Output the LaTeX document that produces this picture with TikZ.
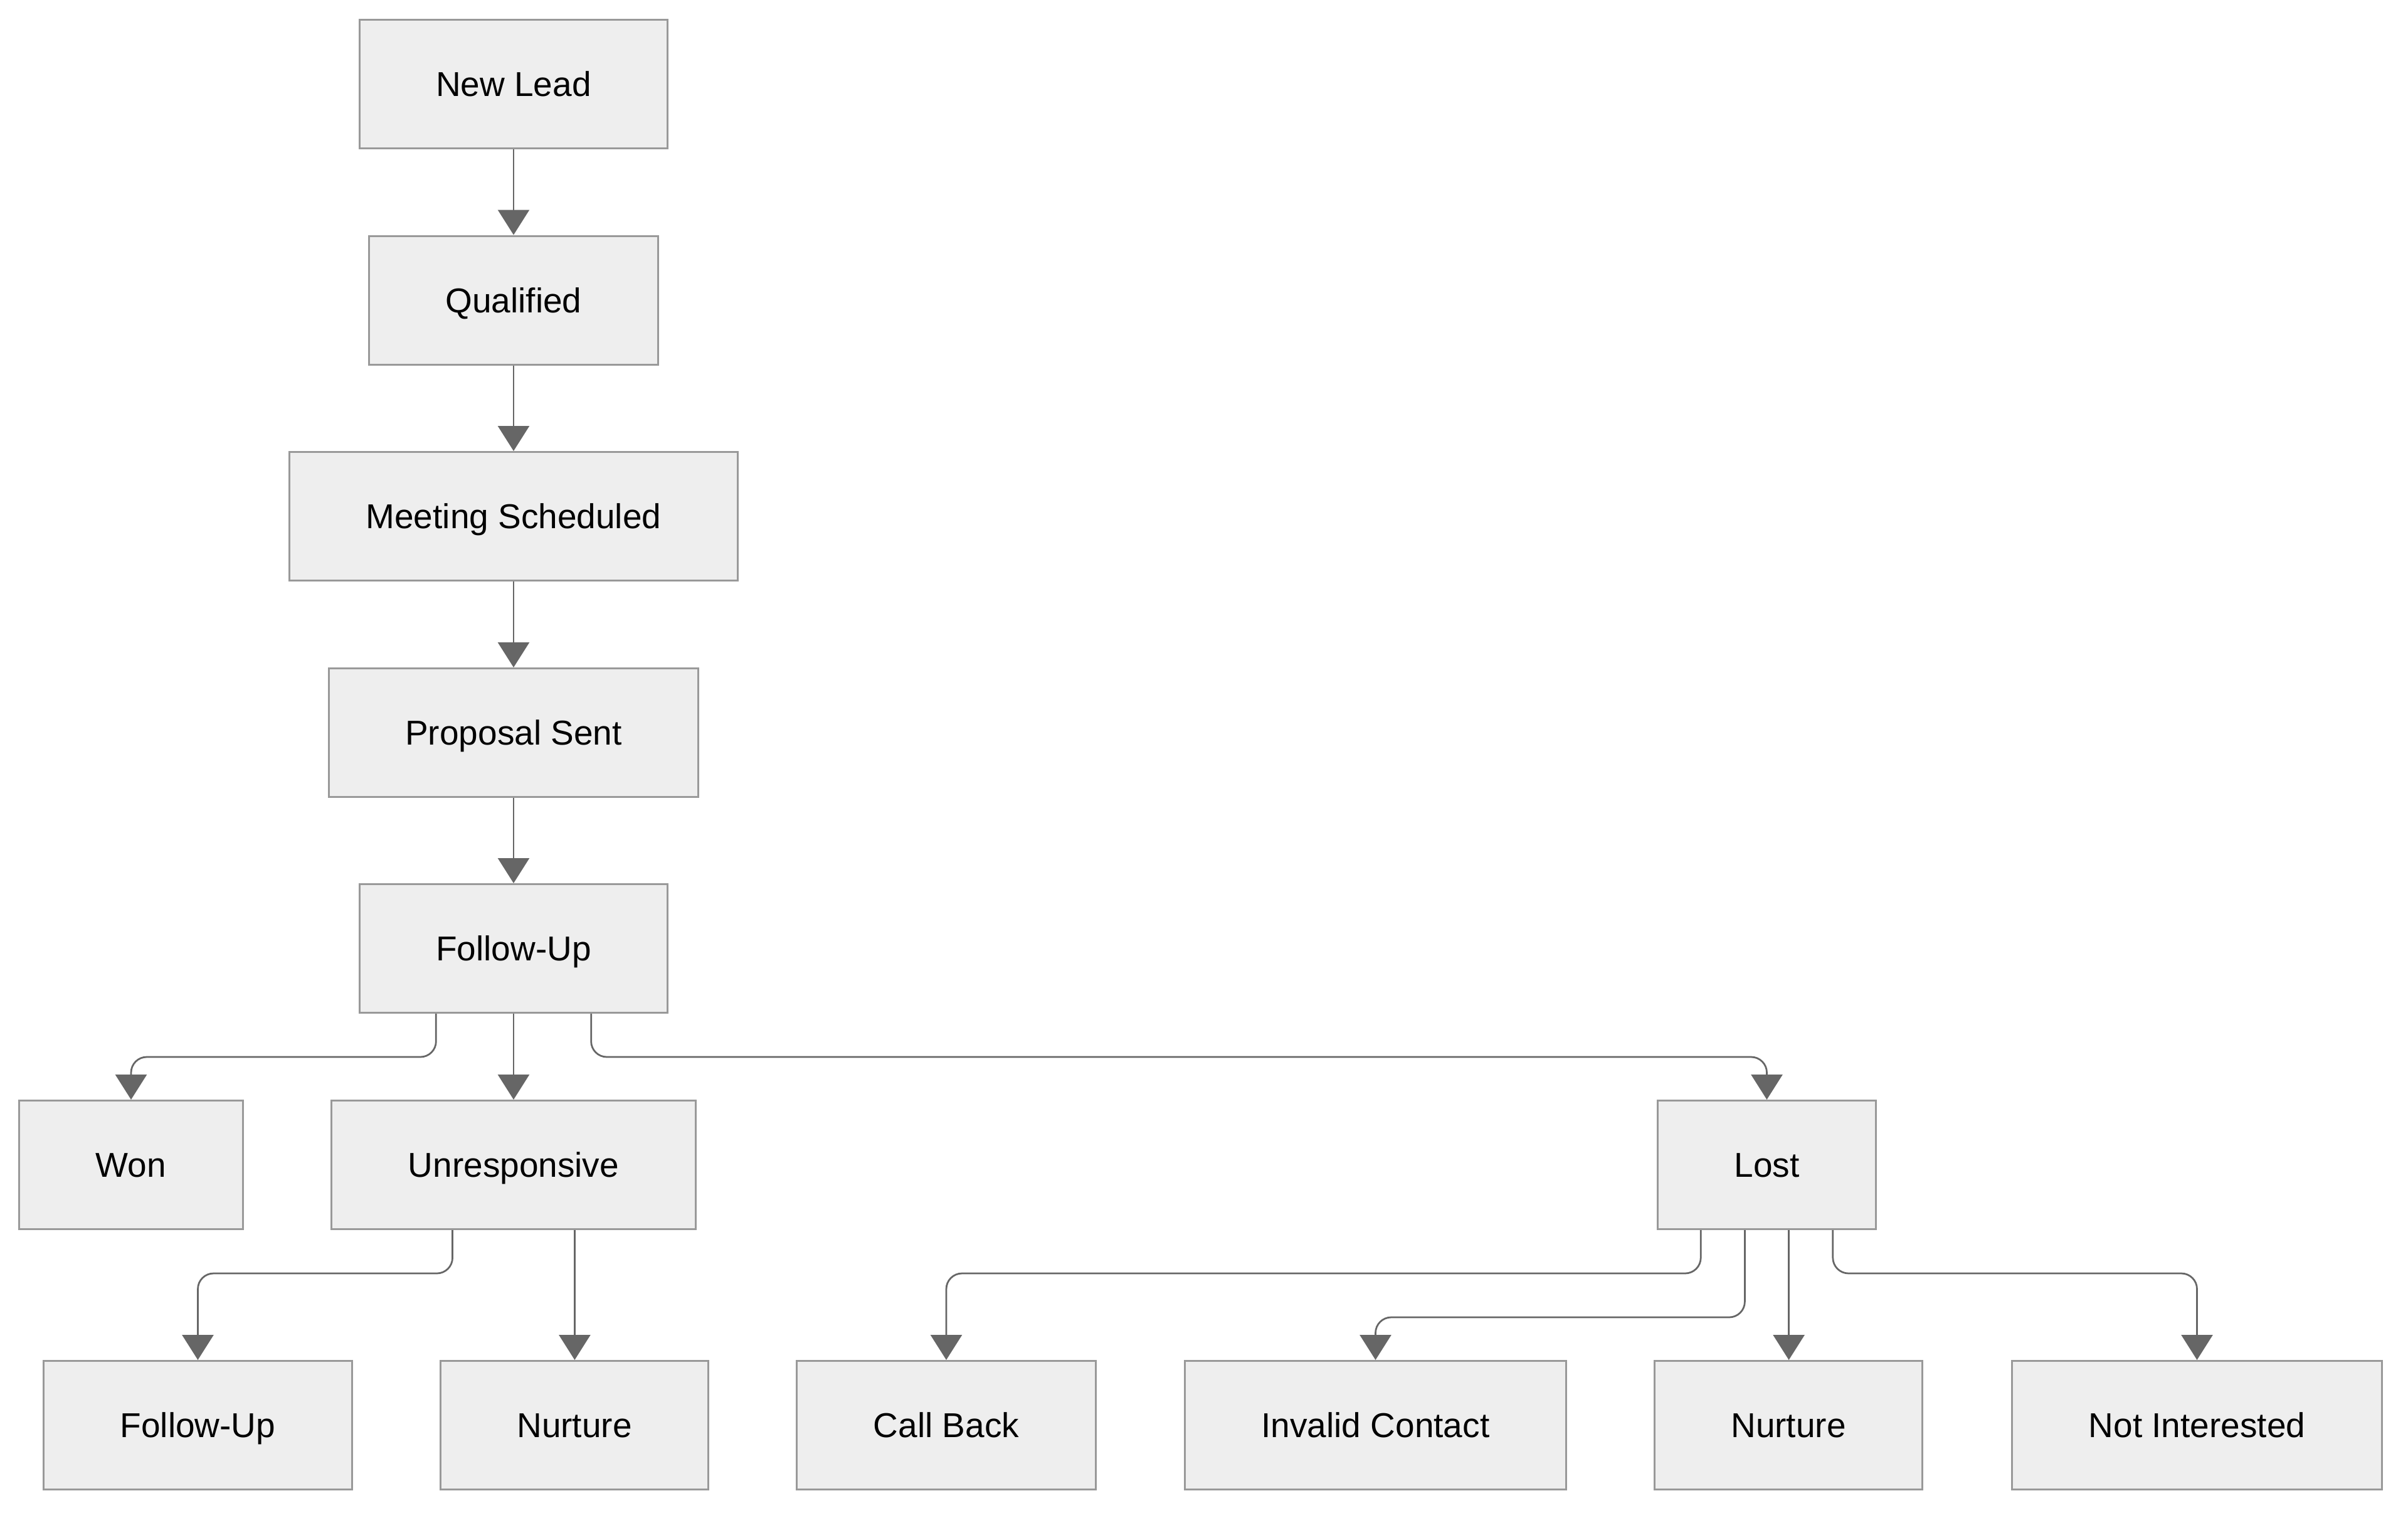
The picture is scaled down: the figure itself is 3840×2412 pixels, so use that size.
\documentclass[tikz,border=0pt]{standalone}
\usepackage{fontspec}
\setmainfont{Liberation Sans}
\usetikzlibrary{arrows.meta,calc}
\definecolor{boxfill}{HTML}{EEEEEE}
\definecolor{boxline}{HTML}{999999}
\definecolor{edgeline}{HTML}{666666}
\tikzset{
  stage/.style={draw=boxline,fill=boxfill,line width=0.6pt,
    inner xsep=24.4pt,inner ysep=0pt,minimum height=41pt,
    text height=10pt,text depth=2.2pt,
    font=\fontsize{11pt}{13pt}\selectfont},
  flow/.style={draw=edgeline,line width=0.55pt,rounded corners=5pt,
    -{Triangle[width=10pt,length=8pt]}}
}
\begin{document}
\begin{tikzpicture}[x=0.2pt,y=-0.2pt]
      \useasboundingbox (0,0) rectangle (3840,2412);
      \draw
        (819,134) node[stage] (lead){New Lead}
        (819,478.5) node[stage] (qual){Qualified}
        (819,823) node[stage] (meet){Meeting Scheduled}
        (819,1168) node[stage] (prop){Proposal Sent}
        (819,1512) node[stage] (fu){Follow-Up}
        (209,1857) node[stage] (won){Won}
        (819,1857) node[stage] (unr){Unresponsive}
        (2817.5,1857) node[stage] (lost){Lost}
        (315.5,2272) node[stage] (fu2){Follow-Up}
        (916,2272) node[stage] (nur){Nurture}
        (1509,2272) node[stage] (cb){Call Back}
        (2193.5,2272) node[stage] (inv){Invalid Contact}
        (2852,2272) node[stage] (nur2){Nurture}
        (3503.5,2272) node[stage] (ni){Not Interested};
      \begin{scope}[flow]
        \draw (lead) to (qual);
        \draw (qual) to (meet);
        \draw (meet) to (prop);
        \draw (prop) to (fu);
        \draw ($(fu.south west)!0.25!(fu.south east)$) -- ++(0,69) -| (won);
        \draw (fu) to (unr);
        \draw ($(fu.south west)!0.75!(fu.south east)$) -- ++(0,69) -| (lost);
        \draw ($(unr.south west)!0.333!(unr.south east)$) -- ++(0,69) -| (fu2);
        \draw ($(unr.south west)!0.667!(unr.south east)$) coordinate (u2) -- (u2 |- nur.north);
        \draw ($(lost.south west)!0.2!(lost.south east)$) -- ++(0,69) -| (cb);
        \draw ($(lost.south west)!0.4!(lost.south east)$) -- ++(0,139) -| (inv);
        \draw ($(lost.south west)!0.6!(lost.south east)$) coordinate (l3) -- (l3 |- nur2.north);
        \draw ($(lost.south west)!0.8!(lost.south east)$) -- ++(0,69) -| (ni);
      \end{scope}
    \end{tikzpicture}
\end{document}
